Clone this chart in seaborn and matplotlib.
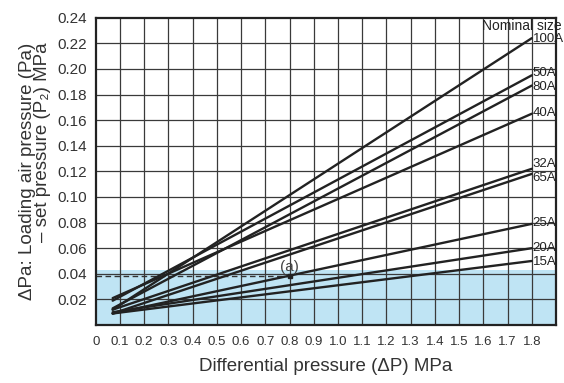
import numpy as np
import pandas as pd
import matplotlib
matplotlib.use("Agg")
import matplotlib.pyplot as plt
import seaborn as sns

# Nominal sizes, each a straight line from x=0.07 to x=1.8 MPa
sizes = ["100A", "50A", "80A", "40A", "32A", "65A", "25A", "20A", "15A"]
x_start = 0.07
x_end = 1.8
y_start = [0.012, 0.019, 0.013, 0.021, 0.012, 0.009, 0.009, 0.010, 0.009]
y_end = [0.224, 0.195, 0.187, 0.165, 0.122, 0.118, 0.079, 0.060, 0.050]
label_y = [0.2234, 0.197, 0.1857, 0.1654, 0.1255, 0.115, 0.0794, 0.0604, 0.0495]

x_ticks = [0, 0.1, 0.2, 0.3, 0.4, 0.5, 0.6, 0.7, 0.8, 0.9,
           1.0, 1.1, 1.2, 1.3, 1.4, 1.5, 1.6, 1.7, 1.8]
x_tick_labels = ["0", "0.1", "0.2", "0.3", "0.4", "0.5", "0.6", "0.7", "0.8", "0.9",
                 "1.0", "1.1", "1.2", "1.3", "1.4", "1.5", "1.6", "1.7", "1.8"]
y_ticks = [0.02, 0.04, 0.06, 0.08, 0.10, 0.12, 0.14, 0.16, 0.18, 0.20, 0.22, 0.24]

shade_top = 0.043
point_a = (0.8, 0.038)

rows = []
for s, y0, y1 in zip(sizes, y_start, y_end):
    rows.append({"size": s, "dp": x_start, "dpa": y0})
    rows.append({"size": s, "dp": x_end, "dpa": y1})
df = pd.DataFrame(rows)

sns.set_style("white")
plt.rcParams["font.family"] = ["Liberation Sans", "DejaVu Sans"]

fig = plt.figure(figsize=(5.64, 3.83), dpi=100)
ax = fig.add_axes([0.1697, 0.1514, 0.8161, 0.8024])

ax.axhspan(0, shade_top, color="#bfe4f4", zorder=0, lw=0)

# grid
for xv in x_ticks[1:]:
    ax.axvline(xv, color="#3a3a3a", lw=0.9, zorder=1)
for yv in y_ticks[:-1]:
    ax.axhline(yv, color="#3a3a3a", lw=0.9, zorder=1)

sns.lineplot(data=df, x="dp", y="dpa", hue="size", palette=["#222222"] * len(sizes),
             legend=False, lw=1.7, ax=ax, zorder=3, estimator=None)

# point (a)
ax.plot([0, point_a[0]], [point_a[1], point_a[1]], ls=(0, (4, 2.5)), color="#333333",
        lw=1.0, zorder=2)
ax.plot(*point_a, marker="s", ms=3.5, color="#222222", zorder=4)
ax.text(point_a[0], point_a[1] + 0.0074, "(a)", ha="center", va="center",
        fontsize=11, color="#444444", zorder=4)

for s, ly in zip(sizes, label_y):
    ax.text(x_end + 0.004, ly, s, ha="left", va="center", fontsize=9.5, color="#222222",
            zorder=5, clip_on=False)
ax.text(1.922, 0.2335, "Nominal size", ha="right", va="center", fontsize=10,
        color="#222222", zorder=5, clip_on=False)

ax.set_xlim(0, 1.9)
ax.set_ylim(0, 0.24)
ax.set_xticks(x_ticks)
ax.set_xticklabels(x_tick_labels, fontsize=9.5)
ax.set_yticks(y_ticks)
ax.set_yticklabels([f"{v:.2f}" for v in y_ticks], fontsize=11)
ax.tick_params(axis="x", length=0, pad=8, colors="#333333")
ax.tick_params(axis="y", length=0, pad=6, colors="#333333")

for sp in ax.spines.values():
    sp.set_color("#222222")
    sp.set_linewidth(1.6)
    sp.set_zorder(6)

ax.set_xlabel("Differential pressure (\u0394P) MPa", fontsize=13.5, color="#333333",
              labelpad=7)
ax.set_ylabel("\u0394Pa: Loading air pressure (Pa)\n\u2013 set pressure (P\u2082) MPa",
              fontsize=13.5, color="#333333", labelpad=5, multialignment="right",
              linespacing=0.85)

fig.savefig("out.png", dpi=100)
